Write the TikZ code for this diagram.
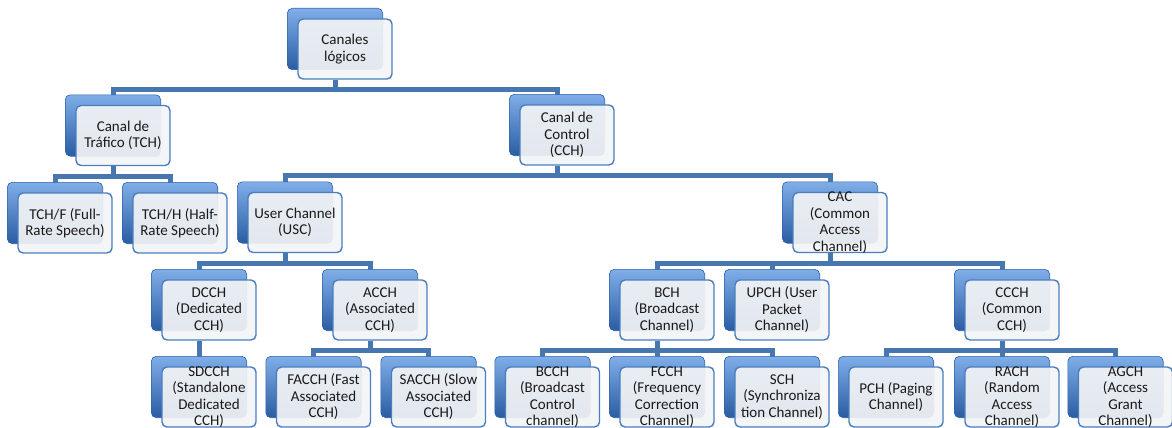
\documentclass[tikz,border=0pt]{standalone}
\usepackage{fontspec}
\setmainfont{Carlito}
\definecolor{frontline}{HTML}{4A7EC0}
\definecolor{frontfill}{HTML}{F3F4F6}
\definecolor{backtop}{HTML}{7FAEE8}
\definecolor{backmid}{HTML}{3F7ACB}
\definecolor{backbot}{HTML}{2A5CA3}
\definecolor{backline}{HTML}{2F62A8}
\definecolor{conncol}{HTML}{4876AE}
\definecolor{txtcol}{HTML}{1A1A1A}
\pgfdeclarelayer{conn}
\pgfdeclarelayer{back}
\pgfsetlayers{conn,back,main}

% one channel: front box, its text, and the blue box behind it
\newcommand\chbox[3]{%
  \node[front] (#1) at (#2) {};
  \node[txt] (#1-t) at (#1.center) {#3};
  \begin{pgfonlayer}{back}
    \path[backbox] ([shift={(-10,-10)}]#1.south west) rectangle ([shift={(-10,-10)}]#1.north east);
  \end{pgfonlayer}}
% elbow connector from a parent to one child
\newcommand\branch[2]{%
  \begin{pgfonlayer}{conn}
    \draw[conn] ([xshift=-10pt]#1.south) -- ++(0,10) -| ([xshift=-10pt]#2.center);
  \end{pgfonlayer}}

\begin{document}
\begin{tikzpicture}[x=1pt,y=-1pt,
  front/.style={draw=frontline, line width=1.4pt, rounded corners=5pt,
    fill=frontfill, fill opacity=0.92, text opacity=1,
    minimum width=94pt, minimum height=60pt, inner sep=0pt},
  backbox/.style={draw=backline, line width=0.6pt, rounded corners=5pt,
    top color=backtop, middle color=backmid, bottom color=backbot},
  txt/.style={align=center, font=\fontsize{15pt}{16.5pt}\selectfont,
    text=txtcol, inner sep=0pt},
  conn/.style={draw=conncol, line width=5pt}]
\useasboundingbox (0,0) rectangle (1172,428);

% level 0 and 1
\chbox{root}{345,49}{Canales\\lógicos}
\chbox{tch}{123,135.5}{Canal de\\Tráfico (TCH)}
\chbox{ctl}{567,135}{Canal de\\Control\\(CCH)}
% level 2
\chbox{tchf}{65,223}{TCH/F (Full-\\Rate Speech)}
\chbox{tchh}{180,223}{TCH/H (Half-\\Rate Speech)}
\chbox{usc}{295,222.5}{User Channel\\(USC)}
\chbox{cac}{840,222.5}{CAC\\(Common\\Access\\Channel)}
% level 3
\chbox{dcch}{209,310}{DCCH\\(Dedicated\\CCH)}
\chbox{acch}{380,310}{ACCH\\(Associated\\CCH)}
\chbox{bch}{667,310}{BCH\\(Broadcast\\Channel)}
\chbox{upch}{782,310}{UPCH (User\\Packet\\Channel)}
\chbox{ccch}{1012,310}{CCCH\\(Common\\CCH)}
% level 4
\chbox{sdcch}{209,397}{SDCCH\\(Standalone\\Dedicated\\CCH)}
\chbox{facch}{323.5,397}{FACCH (Fast\\Associated\\CCH)}
\chbox{sacch}{438.5,397}{SACCH (Slow\\Associated\\CCH)}
\chbox{bcch}{552.5,397}{BCCH\\(Broadcast\\Control\\channel)}
\chbox{fcch}{667,397}{FCCH\\(Frequency\\Correction\\Channel)}
\chbox{sch}{782,397}{SCH\\(Synchroniza\\tion Channel)}
\chbox{pch}{896,397}{PCH (Paging\\Channel)}
\chbox{rach}{1012,397}{RACH\\(Random\\Access\\Channel)}
\chbox{agch}{1125.5,397}{AGCH\\(Access\\Grant\\Channel)}

% connectors
\branch{root}{tch}  \branch{root}{ctl}
\branch{tch}{tchf}  \branch{tch}{tchh}
\branch{ctl}{usc}   \branch{ctl}{cac}
\branch{usc}{dcch}  \branch{usc}{acch}
\branch{cac}{bch}   \branch{cac}{upch}  \branch{cac}{ccch}
\branch{dcch}{sdcch}
\branch{acch}{facch} \branch{acch}{sacch}
\branch{bch}{bcch}  \branch{bch}{fcch}  \branch{bch}{sch}
\branch{ccch}{pch}  \branch{ccch}{rach} \branch{ccch}{agch}
\end{tikzpicture}
\end{document}
